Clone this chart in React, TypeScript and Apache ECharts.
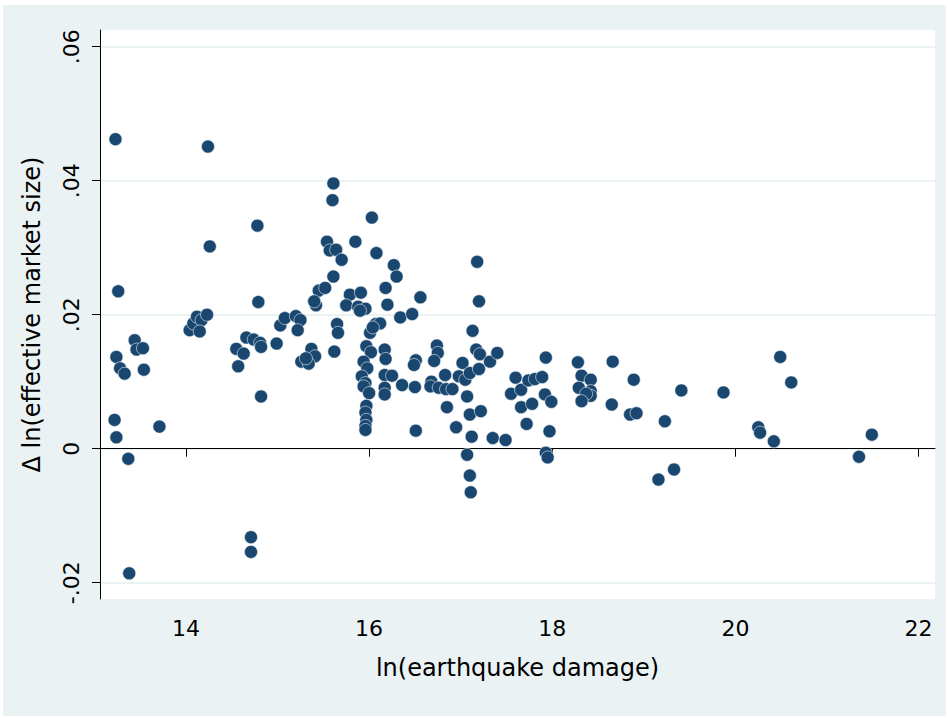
import React, { useEffect, useRef } from "react";
import * as echarts from "echarts";

const xTicks = [14, 16, 18, 20, 22];
const yTicks = [-0.02, 0, 0.02, 0.04, 0.06];

const damage = [
  13.23, 13.26, 13.24, 13.28, 13.33, 13.44, 13.46, 13.53, 13.54, 13.22, 13.24, 13.71, 13.37, 13.38,
  14.04, 14.08, 14.12, 14.17, 14.23, 14.15, 14.24, 14.26,
  14.55, 14.63, 14.57, 14.66, 14.74, 14.81, 14.82, 14.71, 14.71, 14.82, 14.78, 14.79, 14.99, 15.03, 15.08,
  15.2, 15.25, 15.22, 15.37, 15.41, 15.26, 15.34, 15.31, 15.45, 15.52, 15.42, 15.4, 15.54, 15.57, 15.64, 15.7,
  15.61, 15.6, 15.61, 15.65, 15.66, 15.62,
  15.85, 16.03, 16.08, 15.79, 15.91, 15.75, 15.88, 15.96, 15.9, 16.07, 16.12, 16.01, 16.04, 15.97, 16.02,
  15.94, 15.98, 15.92, 15.96, 15.94, 16.0, 15.97, 15.96, 15.97, 15.96, 15.96,
  16.27, 16.3, 16.18, 16.2, 16.56, 16.34, 16.47, 16.17, 16.18, 16.17, 16.25, 16.17, 16.17, 16.36, 16.5,
  16.51, 16.49, 16.51,
  16.74, 16.75, 16.71, 17.02, 16.83, 16.98, 17.05, 17.1, 17.2, 16.68, 16.67, 16.76, 16.84, 16.91, 17.07,
  16.85, 17.1, 17.22, 16.95, 17.12, 17.35, 17.49, 17.07, 17.1, 17.11, 17.18, 17.2, 17.13, 17.17, 17.21,
  17.32, 17.4,
  17.6, 17.55, 17.66, 17.66, 17.78, 17.72, 17.74, 17.81, 17.89, 17.93, 17.92, 17.99, 17.97, 17.93, 17.95,
  18.28, 18.32, 18.42, 18.29, 18.42, 18.42, 18.37, 18.32, 18.66, 18.65,
  18.89, 19.41, 19.87, 18.85, 18.92, 19.23, 19.33, 19.16, 20.49, 20.61, 20.25, 20.27, 20.42, 21.49, 21.35,
];

const marketSize = [
  0.0462, 0.0235, 0.0137, 0.012, 0.0112, 0.0162, 0.0148, 0.015, 0.0118, 0.0043, 0.0017, 0.0033, -0.0015, -0.0186,
  0.0177, 0.0187, 0.0197, 0.0192, 0.02, 0.0175, 0.0451, 0.0302,
  0.0149, 0.0142, 0.0123, 0.0166, 0.0163, 0.0158, 0.0152, -0.0132, -0.0154, 0.0078, 0.0333, 0.0219, 0.0157, 0.0184, 0.0195,
  0.0198, 0.0192, 0.0177, 0.0149, 0.0138, 0.013, 0.0127, 0.0135, 0.0236, 0.024, 0.0214, 0.022, 0.0309, 0.0296, 0.0297, 0.0282,
  0.0396, 0.0371, 0.0257, 0.0186, 0.0173, 0.0145,
  0.0309, 0.0345, 0.0292, 0.023, 0.0233, 0.0214, 0.0212, 0.0209, 0.0206, 0.0186, 0.0187, 0.0173, 0.0181, 0.0153, 0.0144,
  0.013, 0.012, 0.0108, 0.0098, 0.0093, 0.0083, 0.0064, 0.0054, 0.0043, 0.0034, 0.0028,
  0.0274, 0.0257, 0.024, 0.0215, 0.0226, 0.0196, 0.0201, 0.0148, 0.0134, 0.011, 0.0109, 0.0091, 0.0081, 0.0095, 0.0092,
  0.0132, 0.0125, 0.0027,
  0.0154, 0.0143, 0.0131, 0.0128, 0.011, 0.0108, 0.0103, 0.0113, 0.0119, 0.01, 0.0093, 0.0091, 0.0089, 0.0089, 0.0078,
  0.0062, 0.0051, 0.0056, 0.0032, 0.0018, 0.0016, 0.0013, -0.0009, -0.004, -0.0065, 0.0279, 0.022, 0.0176, 0.0148, 0.0141,
  0.013, 0.0143,
  0.0106, 0.0082, 0.0088, 0.0062, 0.0067, 0.0037, 0.0102, 0.0104, 0.0107, 0.0136, 0.0081, 0.007, 0.0026, -0.0006, -0.0013,
  0.0129, 0.0109, 0.0103, 0.0091, 0.0086, 0.0079, 0.0082, 0.0071, 0.013, 0.0066,
  0.0103, 0.0087, 0.0084, 0.0051, 0.0053, 0.0041, -0.0031, -0.0046, 0.0137, 0.0099, 0.0032, 0.0024, 0.0011, 0.0021, -0.0012,
];

const FONT = "DejaVu Sans";

function fmtY(v: number): string {
  if (Math.abs(v) < 1e-9) return "0";
  const s = Math.abs(v).toFixed(2).replace(/^0/, "");
  return (v < 0 ? "-" : "") + s;
}

export default function App() {
  const ref = useRef<HTMLDivElement>(null);
  useEffect(() => {
    if (!ref.current) return;
    const chart = echarts.init(ref.current, undefined, { renderer: "svg" });
    const data = damage.map((x, i) => [x, marketSize[i]]);
    chart.setOption({
      animation: false,
      backgroundColor: "#ffffff",
      graphic: [
        {
          type: "rect",
          z: -100,
          silent: true,
          shape: { x: 3, y: 5, width: 943, height: 711 },
          style: { fill: "#EAF2F3" },
        },
        {
          type: "rect",
          z: -99,
          silent: true,
          shape: { x: 100, y: 30, width: 835, height: 569 },
          style: { fill: "#ffffff" },
        },
      ],
      grid: { left: 100, right: 14, top: 30, bottom: 119, containLabel: false },
      xAxis: {
        type: "value",
        min: 13.061,
        max: 22.18,
        name: "ln(earthquake damage)",
        nameLocation: "middle",
        nameGap: 57,
        nameTextStyle: { fontFamily: FONT, fontSize: 24, color: "#000" },
        axisLine: { show: true, lineStyle: { color: "#000", width: 1 } },
        axisTick: { show: true, length: 8, customValues: xTicks, lineStyle: { color: "#000" } },
        axisLabel: {
          customValues: xTicks,
          margin: 18,
          fontFamily: FONT,
          fontSize: 22,
          color: "#000",
        },
        splitLine: { show: false },
      },
      yAxis: {
        type: "value",
        min: -0.02243,
        max: 0.0625,
        name: "Δ ln(effective market size)",
        nameLocation: "middle",
        nameRotate: 90,
        nameGap: 56,
        nameTextStyle: { fontFamily: FONT, fontSize: 24, color: "#000" },
        axisLine: { show: true, lineStyle: { color: "#000", width: 1 } },
        axisTick: { show: true, length: 8, customValues: yTicks, lineStyle: { color: "#000" } },
        axisLabel: {
          customValues: yTicks,
          rotate: 90,
          margin: 18,
          fontFamily: FONT,
          fontSize: 22,
          color: "#000",
          formatter: (v: number) => fmtY(v),
        },
        splitLine: { show: true, lineStyle: { color: "#EAF2F3", width: 2 } },
      },
      series: [
        {
          type: "scatter",
          data,
          symbol: "circle",
          symbolSize: 13,
          itemStyle: { color: "#1A476F", opacity: 1, borderColor: "#E8EEF3", borderWidth: 0.6 },
        },
      ],
    });
    return () => chart.dispose();
  }, []);
  return (
    <div
      ref={ref}
      style={{ position: "fixed", left: 0, top: 0, width: 949, height: 718 }}
    />
  );
}
